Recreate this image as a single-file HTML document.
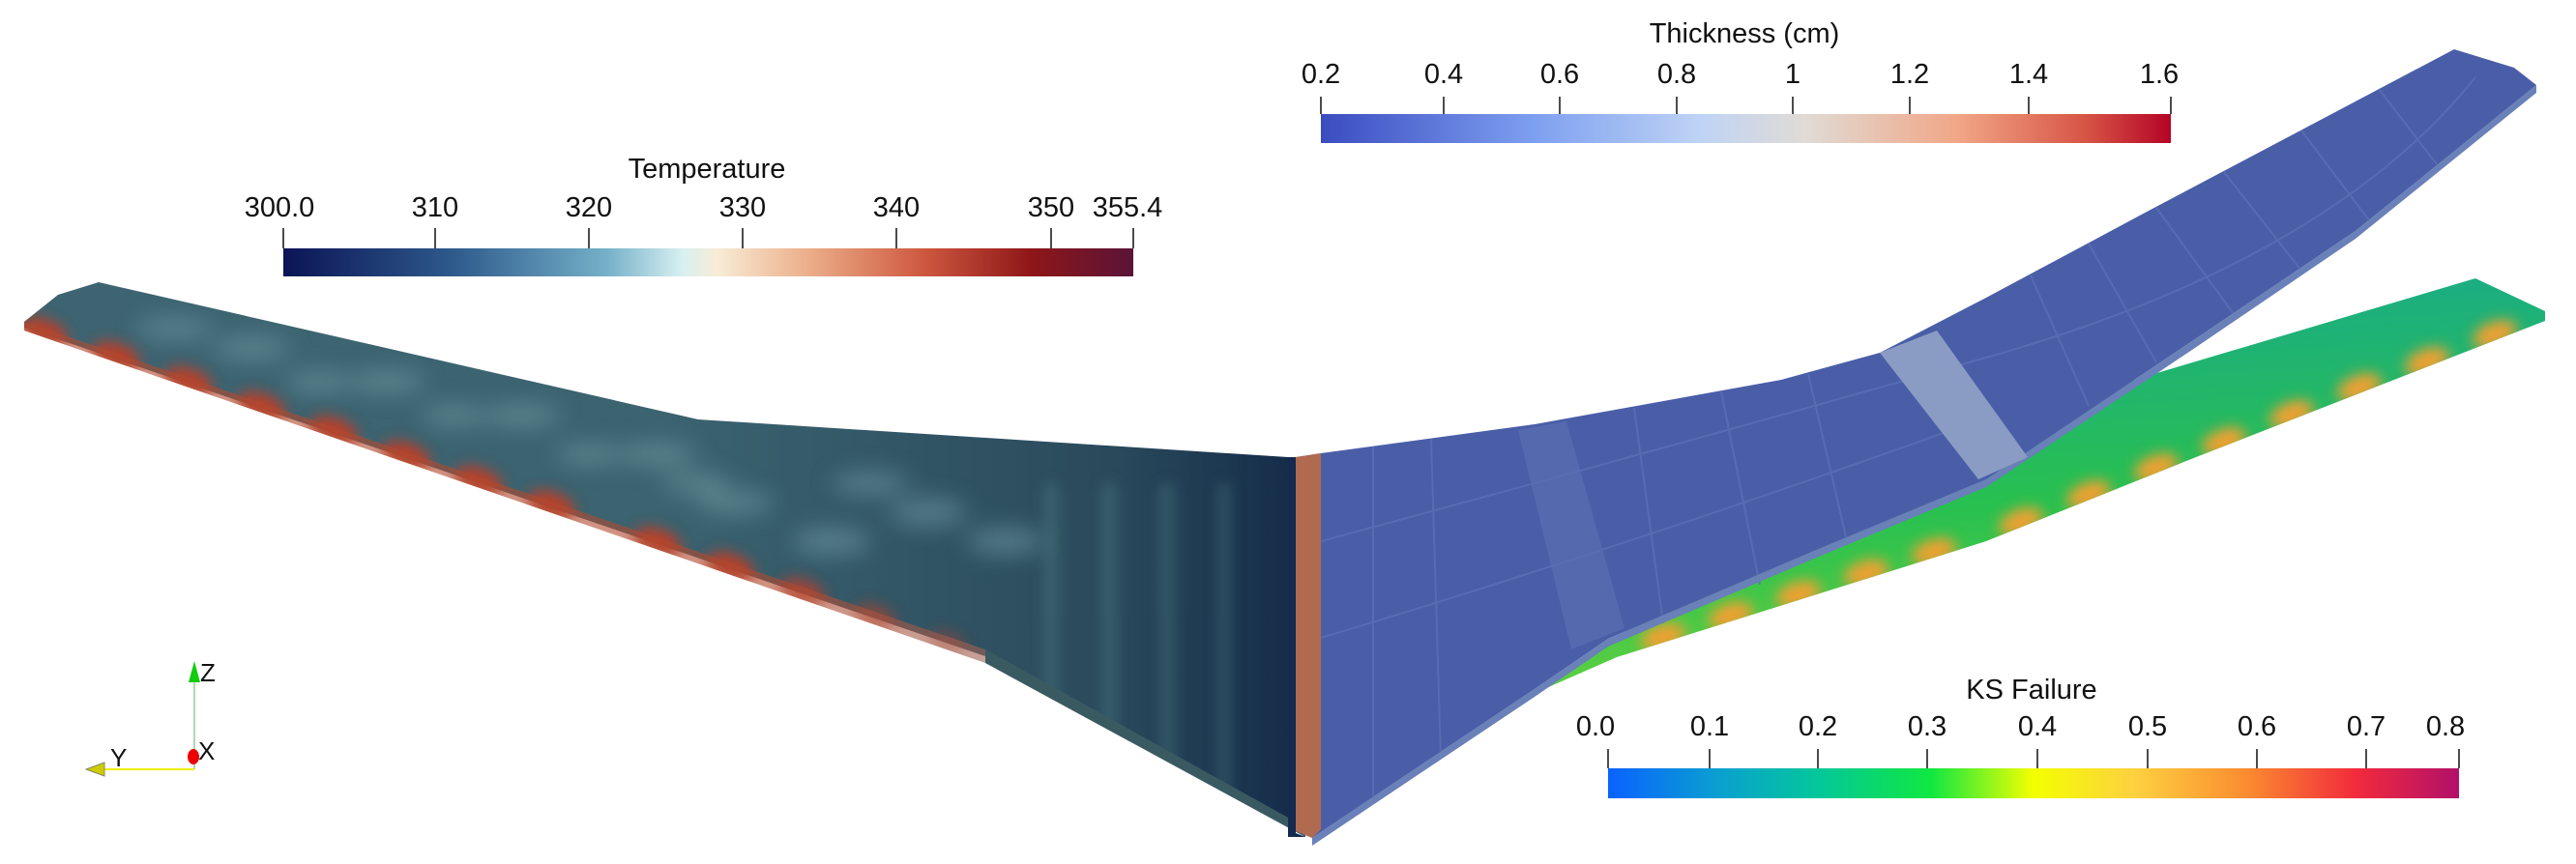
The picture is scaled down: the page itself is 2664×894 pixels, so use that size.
<!DOCTYPE html>
<html><head><meta charset="utf-8"><style>
html,body{margin:0;padding:0;background:#fff;}
svg{display:block;}
text{font-family:"Liberation Sans",sans-serif;fill:#111;}
</style></head><body>
<svg width="2664" height="894" viewBox="0 0 2664 894" xmlns="http://www.w3.org/2000/svg">
<defs>
<linearGradient id="tg" x1="0" x2="1">
<stop offset="0" stop-color="#0b1456"/><stop offset="0.2" stop-color="#2e5a8c"/><stop offset="0.38" stop-color="#74b0c8"/><stop offset="0.47" stop-color="#d8f0f2"/><stop offset="0.51" stop-color="#f8ecd6"/><stop offset="0.62" stop-color="#ebad88"/><stop offset="0.75" stop-color="#cf5a40"/><stop offset="0.88" stop-color="#8e1618"/><stop offset="1" stop-color="#5a1438"/>
</linearGradient>
<linearGradient id="thg" x1="0" x2="1">
<stop offset="0" stop-color="#3b4cc0"/><stop offset="0.25" stop-color="#7d9ff0"/><stop offset="0.45" stop-color="#c0d4f5"/><stop offset="0.57" stop-color="#e0dbd5"/><stop offset="0.75" stop-color="#f1a686"/><stop offset="0.9" stop-color="#d75445"/><stop offset="1" stop-color="#b40426"/>
</linearGradient>
<linearGradient id="ksg" x1="0" x2="1">
<stop offset="0" stop-color="#0a62ff"/><stop offset="0.13" stop-color="#0aa0d0"/><stop offset="0.25" stop-color="#04c898"/><stop offset="0.38" stop-color="#10e840"/><stop offset="0.5" stop-color="#f4ff00"/><stop offset="0.62" stop-color="#fdd040"/><stop offset="0.75" stop-color="#fb8c30"/><stop offset="0.88" stop-color="#f22a3c"/><stop offset="1" stop-color="#b2106a"/>
</linearGradient>
<linearGradient id="lw" x1="0" y1="0" x2="1" y2="0">
<stop offset="0" stop-color="#3e6472"/><stop offset="0.5" stop-color="#3b6370"/><stop offset="0.85" stop-color="#2a4a5c"/><stop offset="1" stop-color="#132a48"/>
</linearGradient>
<linearGradient id="le" x1="0" y1="0" x2="1" y2="0">
<stop offset="0" stop-color="#b04a30"/><stop offset="0.6" stop-color="#b04a30"/><stop offset="0.8" stop-color="#9a6a60"/><stop offset="1" stop-color="#3a5860"/>
</linearGradient>
<linearGradient id="gw" x1="0" y1="0" x2="0.15" y2="1">
<stop offset="0" stop-color="#18a890"/><stop offset="0.6" stop-color="#28c050"/><stop offset="1" stop-color="#60d040"/>
</linearGradient>
<filter id="bl" x="-50%" y="-50%" width="200%" height="200%"><feGaussianBlur stdDeviation="7"/></filter>
<filter id="bl2" x="-50%" y="-50%" width="200%" height="200%"><feGaussianBlur stdDeviation="12"/></filter>
<clipPath id="lc"><polygon points="25,333 60,305 102,292 722,434 1332,473 1345,473 1350,866 1019,686 25,342"/></clipPath>
<clipPath id="gc"><polygon points="2150,410 2560,288 2632,322 2632,332 2266,475 2054,560 1672,680 1590,716 1700,640 2150,430"/></clipPath>
</defs>

<polygon points="25,333 60,305 102,292 722,434 1332,473 1345,473 1350,865 1019,679 25,339" fill="url(#lw)"/>
<g clip-path="url(#lc)">
<g fill="#7aa6aa" opacity="0.5" filter="url(#bl2)">
<ellipse cx="260" cy="360" rx="40" ry="12"/><ellipse cx="400" cy="395" rx="40" ry="12"/><ellipse cx="540" cy="430" rx="40" ry="12"/><ellipse cx="680" cy="470" rx="40" ry="12"/>
<ellipse cx="330" cy="395" rx="35" ry="11"/><ellipse cx="470" cy="430" rx="35" ry="11"/><ellipse cx="610" cy="470" rx="35" ry="11"/><ellipse cx="760" cy="520" rx="40" ry="12"/>
<ellipse cx="860" cy="560" rx="40" ry="14"/><ellipse cx="960" cy="530" rx="40" ry="14"/><ellipse cx="900" cy="500" rx="40" ry="12"/><ellipse cx="1040" cy="560" rx="40" ry="14"/>
<ellipse cx="180" cy="340" rx="40" ry="11"/><ellipse cx="720" cy="500" rx="35" ry="11"/>
</g>
<g fill="#5a8a90" opacity="0.35" filter="url(#bl)">
<rect x="1080" y="500" width="14" height="260"/><rect x="1140" y="500" width="14" height="300"/><rect x="1200" y="500" width="14" height="330"/><rect x="1260" y="500" width="12" height="340"/>
</g>
<g fill="#b8402a" filter="url(#bl)">
<ellipse cx="45" cy="344" rx="26" ry="14" transform="rotate(19 45 344)"/>
<ellipse cx="120" cy="369" rx="26" ry="14" transform="rotate(19 120 369)"/>
<ellipse cx="195" cy="395" rx="26" ry="14" transform="rotate(19 195 395)"/>
<ellipse cx="270" cy="421" rx="26" ry="14" transform="rotate(19 270 421)"/>
<ellipse cx="345" cy="446" rx="26" ry="14" transform="rotate(19 345 446)"/>
<ellipse cx="420" cy="472" rx="26" ry="14" transform="rotate(19 420 472)"/>
<ellipse cx="495" cy="498" rx="26" ry="14" transform="rotate(19 495 498)"/>
<ellipse cx="570" cy="523" rx="26" ry="14" transform="rotate(19 570 523)"/>
<ellipse cx="680" cy="561" rx="26" ry="14" transform="rotate(19 680 561)"/>
<ellipse cx="755" cy="587" rx="26" ry="14" transform="rotate(19 755 587)"/>
<ellipse cx="830" cy="612" rx="24" ry="13" transform="rotate(19 830 612)" opacity="0.8"/>
<ellipse cx="905" cy="638" rx="22" ry="12" transform="rotate(19 905 638)" opacity="0.6"/>
<ellipse cx="980" cy="664" rx="20" ry="11" transform="rotate(19 980 664)" opacity="0.4"/>
</g>
</g>
<polygon points="25,333 1019,672 1350,856 1350,866 1019,686 25,342" fill="url(#le)" opacity="0.6"/>
<polygon points="1019,672 1350,856 1350,866 1019,686" fill="#3a5a62"/>

<polygon points="2150,410 2560,288 2632,322 2632,332 2266,475 2054,560 1672,680 1590,716 1700,640 2150,430" fill="url(#gw)"/>
<g clip-path="url(#gc)" filter="url(#bl)">
<g fill="#f0a030">
<ellipse cx="2580" cy="346" rx="24" ry="13" transform="rotate(-21 2580 346)"/>
<ellipse cx="2510" cy="374" rx="24" ry="13" transform="rotate(-21 2510 374)"/>
<ellipse cx="2440" cy="401" rx="24" ry="13" transform="rotate(-21 2440 401)"/>
<ellipse cx="2370" cy="429" rx="24" ry="13" transform="rotate(-21 2370 429)"/>
<ellipse cx="2300" cy="457" rx="24" ry="13" transform="rotate(-21 2300 457)"/>
<ellipse cx="2230" cy="484" rx="24" ry="13" transform="rotate(-21 2230 484)"/>
<ellipse cx="2160" cy="512" rx="24" ry="13" transform="rotate(-21 2160 512)"/>
<ellipse cx="2090" cy="540" rx="24" ry="13" transform="rotate(-21 2090 540)"/>
<ellipse cx="2000" cy="571" rx="24" ry="13" transform="rotate(-17 2000 571)"/>
<ellipse cx="1930" cy="593" rx="24" ry="13" transform="rotate(-17 1930 593)"/>
<ellipse cx="1860" cy="615" rx="24" ry="13" transform="rotate(-17 1860 615)"/>
<ellipse cx="1790" cy="637" rx="24" ry="13" transform="rotate(-17 1790 637)"/>
<ellipse cx="1720" cy="659" rx="24" ry="13" transform="rotate(-17 1720 659)"/>
</g>
</g>

<polygon points="1340,473 1366,469 1587,439 1842,393 1944,365 2054,308 2224,217 2538,51 2600,70 2623,88 2436,239 2267,353 2054,496 1876,570 1663,661 1587,713 1357,867 1340,860" fill="#4a5ea8"/>
<g stroke="#5a70b4" stroke-width="2" fill="none" opacity="0.8">
<line x1="1420" y1="462" x2="1420" y2="830"/><line x1="1480" y1="454" x2="1490" y2="785"/><line x1="1690" y1="422" x2="1720" y2="645"/><line x1="1780" y1="405" x2="1820" y2="605"/><line x1="1870" y1="387" x2="1910" y2="560"/><line x1="2100" y1="285" x2="2160" y2="420"/><line x1="2160" y1="252" x2="2230" y2="375"/><line x1="2230" y1="215" x2="2310" y2="325"/><line x1="2300" y1="178" x2="2380" y2="280"/><line x1="2380" y1="135" x2="2450" y2="228"/><line x1="2460" y1="92" x2="2520" y2="170"/>
<path d="M1366,560 Q1700,470 2054,370 T2560,80"/><path d="M1366,660 Q1700,560 2060,430"/>
</g>
<polygon points="2623,88 2623,96 2436,247 2267,362 2054,504 1876,578 1663,669 1587,721 1357,875 1357,867 1587,713 1663,661 1876,570 2054,496 2267,353 2436,239" fill="#6a80b8"/>
<polygon points="1944,365 2003,342 2097,473 2046,496" fill="#8a9cc4"/>
<polygon points="1570,445 1620,436 1680,650 1625,672" fill="#5a6eb2" opacity="0.7"/>
<polygon points="1340,473 1366,469 1366,858 1357,867 1340,860" fill="#b06a50"/>
<polygon points="1332,473 1340,473 1340,862 1350,866 1332,866" fill="#142a50"/>

<rect x="293" y="257" width="879" height="29" fill="url(#tg)"/>
<g stroke="#111" stroke-width="1.5">
<line x1="293" y1="236" x2="293" y2="257"/><line x1="450" y1="236" x2="450" y2="257"/><line x1="609" y1="236" x2="609" y2="257"/><line x1="768" y1="236" x2="768" y2="257"/><line x1="927" y1="236" x2="927" y2="257"/><line x1="1087" y1="236" x2="1087" y2="257"/><line x1="1172" y1="236" x2="1172" y2="257"/>
</g>
<g font-size="29" text-anchor="middle">
<text x="731" y="184">Temperature</text>
<text x="289" y="224">300.0</text><text x="450" y="224">310</text><text x="609" y="224">320</text><text x="768" y="224">330</text><text x="927" y="224">340</text><text x="1087" y="224">350</text><text x="1166" y="224">355.4</text>
</g>

<rect x="1366" y="118" width="879" height="30" fill="url(#thg)"/>
<g stroke="#111" stroke-width="1.5">
<line x1="1366" y1="100" x2="1366" y2="118"/><line x1="1493" y1="100" x2="1493" y2="118"/><line x1="1613" y1="100" x2="1613" y2="118"/><line x1="1734" y1="100" x2="1734" y2="118"/><line x1="1854" y1="100" x2="1854" y2="118"/><line x1="1975" y1="100" x2="1975" y2="118"/><line x1="2098" y1="100" x2="2098" y2="118"/><line x1="2245" y1="100" x2="2245" y2="118"/>
</g>
<g font-size="29" text-anchor="middle">
<text x="1804" y="44">Thickness (cm)</text>
<text x="1366" y="86">0.2</text><text x="1493" y="86">0.4</text><text x="1613" y="86">0.6</text><text x="1734" y="86">0.8</text><text x="1854" y="86">1</text><text x="1975" y="86">1.2</text><text x="2098" y="86">1.4</text><text x="2233" y="86">1.6</text>
</g>

<rect x="1663" y="795" width="880" height="31" fill="url(#ksg)"/>
<g stroke="#111" stroke-width="1.5">
<line x1="1663" y1="775" x2="1663" y2="795"/><line x1="1768" y1="775" x2="1768" y2="795"/><line x1="1880" y1="775" x2="1880" y2="795"/><line x1="1993" y1="775" x2="1993" y2="795"/><line x1="2107" y1="775" x2="2107" y2="795"/><line x1="2221" y1="775" x2="2221" y2="795"/><line x1="2334" y1="775" x2="2334" y2="795"/><line x1="2447" y1="775" x2="2447" y2="795"/><line x1="2543" y1="775" x2="2543" y2="795"/>
</g>
<g font-size="29" text-anchor="middle">
<text x="2101" y="723">KS Failure</text>
<text x="1650" y="761">0.0</text><text x="1768" y="761">0.1</text><text x="1880" y="761">0.2</text><text x="1993" y="761">0.3</text><text x="2107" y="761">0.4</text><text x="2221" y="761">0.5</text><text x="2334" y="761">0.6</text><text x="2447" y="761">0.7</text><text x="2529" y="761">0.8</text>
</g>

<line x1="201" y1="796" x2="201" y2="700" stroke="#9c9" stroke-width="1.5"/>
<polygon points="195,706 201,684 207,706" fill="#1c1"/>
<line x1="201" y1="796" x2="100" y2="796" stroke="#ee0" stroke-width="2"/>
<polygon points="89,796 108,789 108,803" fill="#cc0" stroke="#886" stroke-width="1"/>
<ellipse cx="200" cy="783" rx="6" ry="8" fill="#e00"/>
<g font-size="26"><text x="207" y="705">Z</text><text x="114" y="793">Y</text><text x="205" y="786">X</text></g>
</svg>
</body></html>
